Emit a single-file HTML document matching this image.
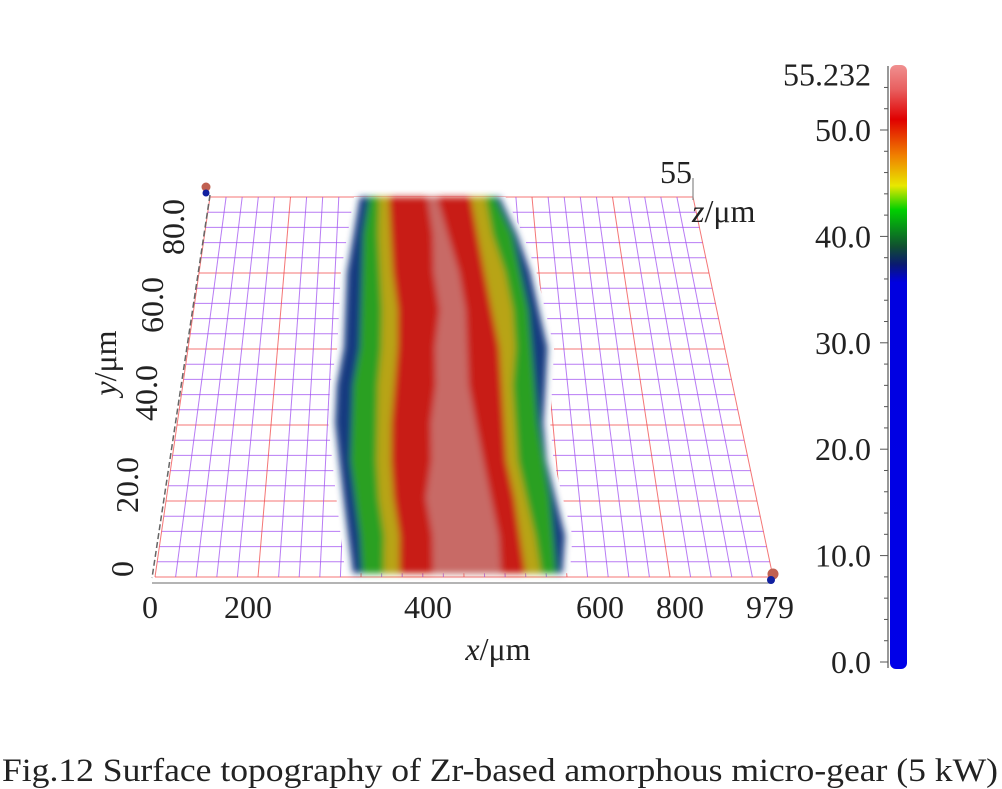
<!DOCTYPE html>
<html><head><meta charset="utf-8"><style>
body{margin:0;background:#fff;}
svg{display:block;font-family:"Liberation Serif",serif;}
</style></head><body>
<svg width="1002" height="789" viewBox="0 0 1002 789">
<defs>
<linearGradient id="cb" x1="0" y1="1" x2="0" y2="0">
<stop offset="0" stop-color="#0000e8"/>
<stop offset="0.64" stop-color="#0000e0"/>
<stop offset="0.67" stop-color="#0a1a70"/>
<stop offset="0.70" stop-color="#105030"/>
<stop offset="0.76" stop-color="#00d000"/>
<stop offset="0.80" stop-color="#e8e800"/>
<stop offset="0.85" stop-color="#f08000"/>
<stop offset="0.91" stop-color="#e00000"/>
<stop offset="0.96" stop-color="#e86060"/>
<stop offset="1" stop-color="#f09090"/>
</linearGradient>
<filter id="soft" x="-10%" y="-5%" width="120%" height="110%"><feGaussianBlur stdDeviation="3.5"/></filter>
</defs>
<g id="grid"></g>
<g id="halo"></g>
<g id="band" filter="url(#soft)"></g>
<line x1="210" y1="195" x2="152" y2="578" stroke="#666" stroke-width="1.5" stroke-dasharray="6,3"/>
<line x1="152" y1="583" x2="772" y2="583" stroke="#888" stroke-width="1.2"/>
<g>
<circle cx="206" cy="187" r="4.5" fill="#c06050"/>
<circle cx="206" cy="193" r="3.5" fill="#1020a0"/>
<circle cx="773" cy="574" r="5.5" fill="#c06050"/>
<circle cx="771" cy="580" r="4" fill="#1020a0"/>
</g>
<line x1="693" y1="178" x2="693" y2="200" stroke="#888" stroke-width="1.2"/>
<g id="xt" font-size="32" fill="#222" text-anchor="middle"></g>
<text x="498" y="660" font-size="32" text-anchor="middle" fill="#222"><tspan font-style="italic">x</tspan>/μm</text>
<g id="yt" font-size="32" fill="#222" text-anchor="middle"></g>
<text transform="translate(116,363) rotate(-90)" font-size="32" text-anchor="middle" fill="#222"><tspan font-style="italic">y</tspan>/μm</text>
<text x="676" y="183" font-size="32" text-anchor="middle" fill="#222">55</text>
<text x="692" y="222" font-size="32" fill="#222"><tspan font-style="italic">z</tspan>/μm</text>
<g>
<line x1="888" y1="66" x2="888" y2="668" stroke="#555" stroke-width="1.2"/>
<rect x="890" y="65" width="17" height="604" rx="6" fill="url(#cb)"/>
<g id="cbt"></g>
<g id="cbl" font-size="32" fill="#222" text-anchor="end"></g>
</g>
<text x="2" y="781" font-size="33" fill="#222" textLength="996" lengthAdjust="spacingAndGlyphs">Fig.12  Surface topography of Zr-based amorphous micro-gear (5 kW)</text>
</svg>
<script>
const NS="http://www.w3.org/2000/svg";
const xTickLabels=["0","200","400","600","800","979"];
const xTickPx=[150,248,428,600,680,770];
const yTickLabels=["0","20.0","40.0","60.0","80.0"];
const cbValues=[0,10,20,30,40,50,55.232];
const cbLabels=["0.0","10.0","20.0","30.0","40.0","50.0","55.232"];
const vLevels=[0,0.1,0.2,0.3,0.4,0.5,0.6,0.7,0.8,0.9,1];
const blueL=[.32,.31,.30,.29,.28,.28,.29,.29,.29,.30,.31];
const blueR=[.66,.67,.66,.65,.65,.66,.67,.66,.65,.63,.60];
const greenL=[.335,.33,.32,.31,.31,.31,.32,.32,.32,.32,.33];
const greenR=[.65,.65,.65,.645,.64,.64,.64,.64,.63,.62,.59];
const yelL=[.37,.37,.36,.355,.355,.355,.36,.36,.355,.35,.35];
const yelR=[.625,.62,.61,.60,.60,.60,.61,.61,.60,.58,.57];
const redL=[.395,.395,.385,.38,.38,.385,.39,.39,.38,.375,.37];
const redR=[.60,.595,.59,.58,.58,.58,.58,.57,.56,.55,.54];
const pinkL=[.45,.45,.44,.45,.45,.46,.46,.47,.46,.46,.45];
const pinkR=[.56,.56,.55,.54,.53,.52,.52,.52,.51,.49,.47];
function P(u,v){const L=155+(210-155)*v,R=773+(693-773)*v,y=577+(197-577)*v;return [L+(R-L)*u,y];}
function mk(tag,attrs,parent){const e=document.createElementNS(NS,tag);for(const k in attrs)e.setAttribute(k,attrs[k]);parent.appendChild(e);return e;}
const grid=document.getElementById('grid');
const NX=30,NY=25;
for(let j=0;j<=NY;j++){const v=j/NY,a=P(0,v),b=P(1,v);const red=j%5==0;
 const l=mk('line',{x1:a[0],y1:a[1],x2:b[0],y2:b[1],stroke:red?'#f04848':'#a050f0','stroke-width':1,'stroke-opacity':0.75},grid);
 
 }
for(let i=0;i<=NX;i++){const u=i/NX,a=P(u,0),b=P(u,1);const red=i%5==0;
 const l=mk('line',{x1:a[0],y1:a[1],x2:b[0],y2:b[1],stroke:red?'#f04848':'#a050f0','stroke-width':1,'stroke-opacity':0.75},grid);
 
 }
function poly(Ls,Rs,dl){const pts=[];
 vLevels.forEach((v,k)=>pts.push(P(Ls[k]-dl,v*0.99+0.01)));
 for(let k=vLevels.length-1;k>=0;k--)pts.push(P(Rs[k]+dl,vLevels[k]*0.99+0.01));
 return pts.map(q=>q.join(',')).join(' ');}
const halo=document.getElementById('halo');
const h=mk('polygon',{points:poly(blueL,blueR,0.012),fill:'#ffffff'},halo);


const band=document.getElementById('band');
const layers=[[blueL,blueR,'#123a80','band-blue-edge'],[greenL,greenR,'#2aa020','band-green'],[yelL,yelR,'#b8a412','band-yellow'],[redL,redR,'#c81c14','band-red'],[pinkL,pinkR,'#c86a66','band-pink-core']];
layers.forEach(([Ls,Rs,c,n])=>{
 const p=mk('polygon',{points:poly(Ls,Rs,0),fill:c},band);
 
 });
const xt=document.getElementById('xt');
xTickLabels.forEach((t,i)=>{const e=mk('text',{x:xTickPx[i],y:618},xt);e.textContent=t;
 
 });
const yt=document.getElementById('yt');
const yPos=[[122,569],[127,485],[146,393],[152,305],[173,227]];
yTickLabels.forEach((t,i)=>{const e=mk('text',{transform:`translate(${yPos[i][0]+11},${yPos[i][1]}) rotate(-90)`},yt);e.textContent=t;
 
 });
function cbY(v){return 662-v*10.64;}
const cbt=document.getElementById('cbt');
for(let v=0;v<=55;v+=2){const major=v%10==0;const l=mk('line',{x1:major?880:884,x2:888,y1:cbY(v),y2:cbY(v),stroke:'#555','stroke-width':1},cbt);
 
 }
const cbl=document.getElementById('cbl');
cbValues.forEach((v,i)=>{const t=cbLabels[i];const e=mk('text',{x:871,y:cbY(v)+11},cbl);e.textContent=t;
 
 });
</script>
</body></html>
